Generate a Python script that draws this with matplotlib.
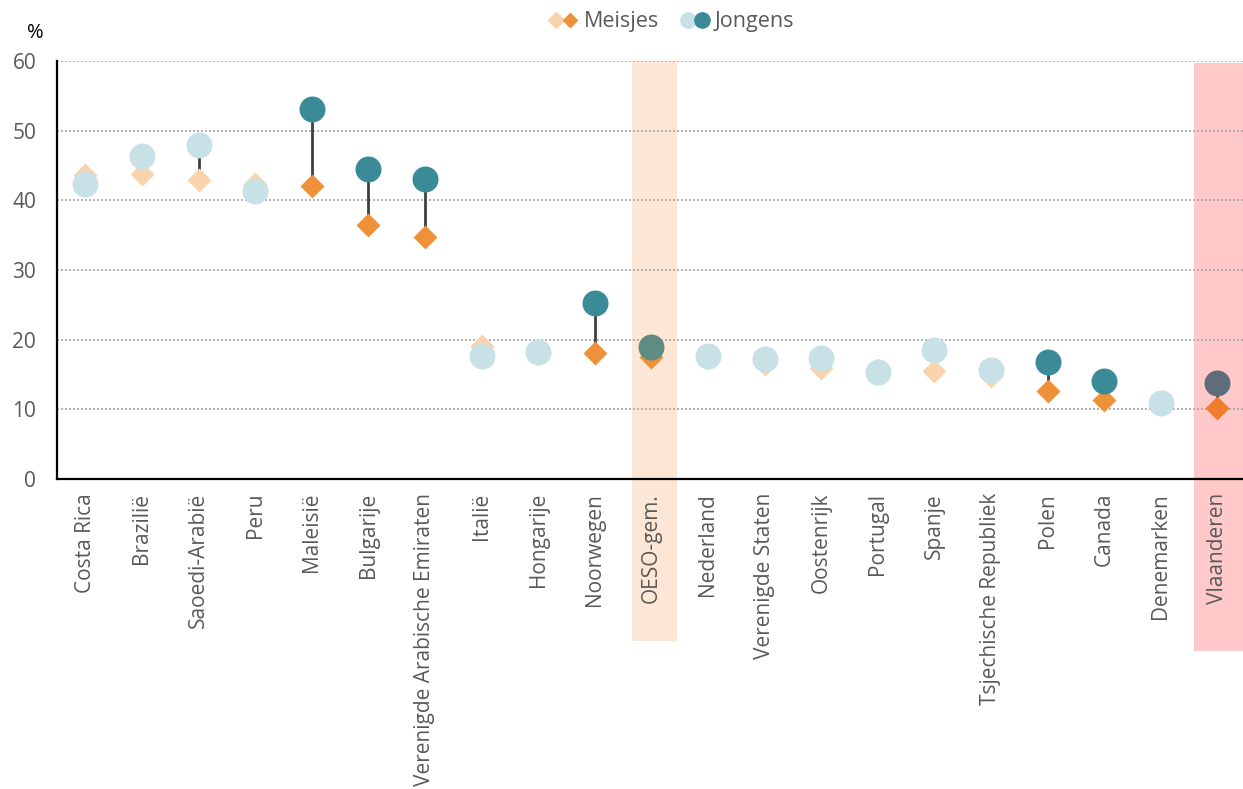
import matplotlib
matplotlib.use("Agg")
import matplotlib.pyplot as plt
from matplotlib.lines import Line2D
from matplotlib.patches import Rectangle
from matplotlib.legend_handler import HandlerTuple
from matplotlib.transforms import blended_transform_factory

plt.rcParams['font.family'] = ['Open Sans', 'DejaVu Sans']

categories = ["Costa Rica", "Brazilië", "Saoedi-Arabië", "Peru", "Maleisië", "Bulgarije",
              "Verenigde Arabische Emiraten", "Italië", "Hongarije", "Noorwegen", "OESO-gem.",
              "Nederland", "Verenigde Staten", "Oostenrijk", "Portugal", "Spanje",
              "Tsjechische Republiek", "Polen", "Canada", "Denemarken", "Vlaanderen"]
meisjes = [43.7, 43.8, 42.9, 42.3, 42.0, 36.5, 34.7, 19.1, 18.0, 18.1, 17.5,
           17.4, 16.5, 16.0, 15.7, 15.5, 14.8, 12.7, 11.3, 10.8, 10.2]
jongens = [42.3, 46.4, 48.0, 41.4, 53.1, 44.5, 43.1, 17.6, 18.2, 25.3, 19.0,
           17.6, 17.2, 17.4, 15.3, 18.5, 15.7, 16.8, 14.1, 10.9, 13.8]
# significant gender difference -> dark marker
significant = [False, False, False, False, True, True, True, False, False, True, True,
               False, False, False, False, False, False, True, True, False, True]
yticks = [0, 10, 20, 30, 40, 50, 60]

GIRL_LIGHT = "#F8D3AD"
GIRL_DARK = "#EE9138"
BOY_LIGHT = "#C7E1E7"
BOY_DARK = "#3B8A98"
TEXT = "#595959"

fig = plt.figure(figsize=(12.43, 7.89), dpi=100)
ax = fig.add_axes([57 / 1243, 1 - 479 / 789, 1 - 57 / 1243, (479 - 61) / 789])

x = list(range(len(categories)))
ax.set_xlim(-0.5, -0.5 + (1243 - 57) / 56.6)
ax.set_ylim(0, 60)

# highlight bands for the OECD average and Flanders (reach into the label area)
trans = blended_transform_factory(ax.transData, fig.transFigure)
i_oeso = categories.index("OESO-gem.")
i_vl = categories.index("Vlaanderen")
ax.add_patch(Rectangle((i_oeso - 0.34, 1 - 641 / 789), 0.79, (641 - 61) / 789,
                       transform=trans, facecolor="#FCE6D5", edgecolor="none",
                       clip_on=False, zorder=0))
ax.add_patch(Rectangle((i_vl - 0.41, 1 - 651 / 789), 1.0, (651 - 63) / 789,
                       transform=trans, facecolor="#FFC9C9", edgecolor="none",
                       clip_on=False, zorder=0))

for yv in yticks[1:]:
    ax.axhline(yv, color="#A6A6A6", lw=1.2, ls=(0, (1.2, 1.2)), zorder=1)

# connecting lines
for xi, g, b in zip(x, meisjes, jongens):
    ax.plot([xi, xi], [g, b], color="#404040", lw=2.0, zorder=2, solid_capstyle="butt")

for xi, g, b, sig in zip(x, meisjes, jongens, significant):
    gc = GIRL_DARK if sig else GIRL_LIGHT
    bc = BOY_DARK if sig else BOY_LIGHT
    if categories[xi] == "OESO-gem.":
        bc = "#5F8C82"
    if categories[xi] == "Vlaanderen":
        gc = "#EF7D2E"
        bc = "#5F6D7A"
    ax.plot(xi, g, marker="D", ms=12.7, color=gc, mec="none", zorder=3)
    ax.plot(xi, b, marker="o", ms=18.7, color=bc, mec="none", zorder=4)

for s in ["top", "right"]:
    ax.spines[s].set_visible(False)
for s in ["left", "bottom"]:
    ax.spines[s].set_color("black")
    ax.spines[s].set_linewidth(1.6)

ax.set_yticks(yticks)
ax.set_yticklabels([str(v) for v in yticks])
ax.set_xticks(x)
ax.set_xticklabels(categories, rotation=90, va="top", ha="center")
ax.tick_params(axis="y", length=0, pad=15, labelsize=15, labelcolor=TEXT)
ax.tick_params(axis="x", length=0, pad=10, labelsize=15, labelcolor=TEXT)

fig.text(35 / 1243, 1 - 33 / 789, "%", ha="center", va="center", fontsize=14.5, color="black")

# legend
h_girls = (Line2D([], [], marker="D", ms=8, color=GIRL_LIGHT, ls="none"),
           Line2D([], [], marker="D", ms=7, color=GIRL_DARK, ls="none"))
h_boys = (Line2D([], [], marker="o", ms=11, color=BOY_LIGHT, ls="none"),
          Line2D([], [], marker="o", ms=11, color=BOY_DARK, ls="none"))
leg = fig.legend([h_girls, h_boys], ["Meisjes", "Jongens"],
                 handler_map={tuple: HandlerTuple(ndivide=None, pad=0.0)},
                 loc="center", bbox_to_anchor=(672 / 1243, 1 - 22 / 789), ncol=2,
                 frameon=False, fontsize=15.5, handlelength=1.3, handletextpad=0.3,
                 columnspacing=1.0)
for t in leg.get_texts():
    t.set_color(TEXT)

fig.savefig("out.png", dpi=100)
